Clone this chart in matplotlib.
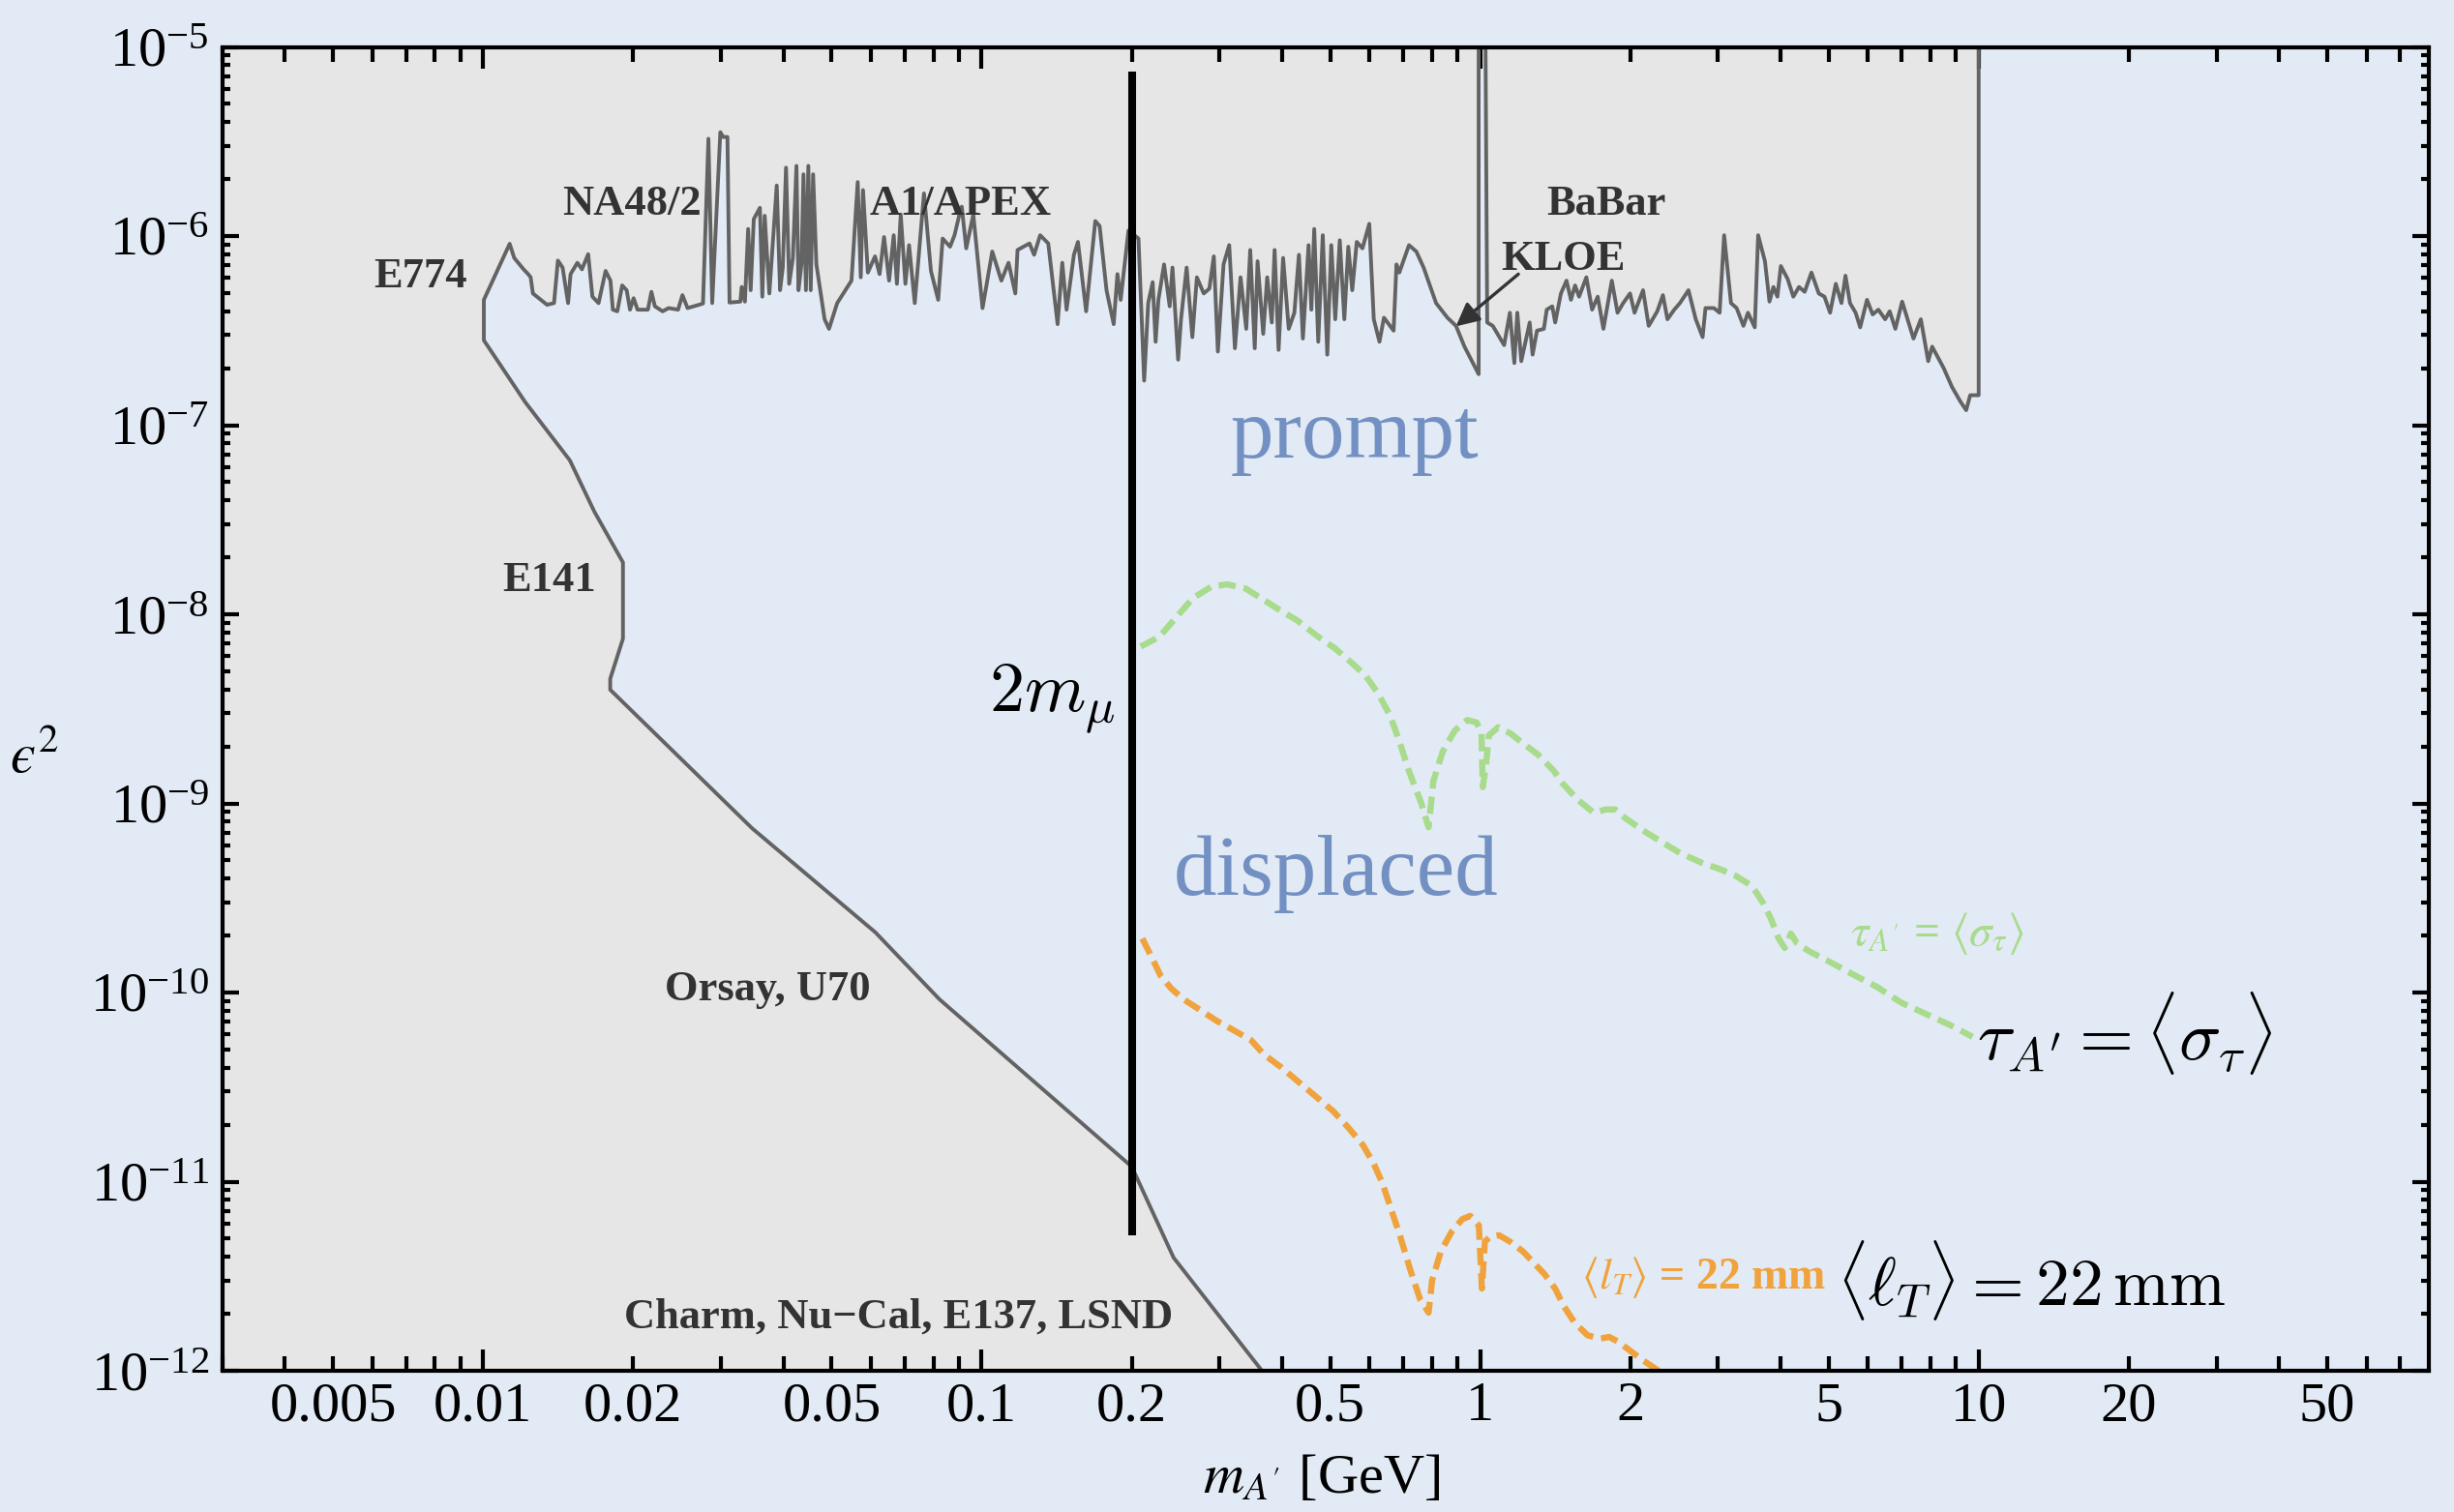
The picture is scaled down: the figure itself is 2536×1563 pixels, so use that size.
import matplotlib
matplotlib.use("Agg")
import matplotlib.pyplot as plt
from matplotlib.ticker import FixedLocator, NullFormatter, LogFormatterSciNotation

plt.rcParams['font.family'] = ['Liberation Serif', 'DejaVu Serif']
plt.rcParams['mathtext.fontset'] = 'stix'

# ---------------- data ----------------
# upper exclusion boundary (E774 / NA48/2 / A1-APEX / KLOE / BaBar), eps^2 vs mass [GeV]
upper_mass = [
    0.01003, 0.0113, 0.01154, 0.01205, 0.01231, 0.01245, 0.01258, 0.01343, 0.01387, 0.01412,
    0.01443, 0.0148, 0.01497, 0.01545, 0.01578, 0.01624, 0.01656, 0.01704, 0.0176, 0.0180,
    0.0182, 0.01858, 0.0190, 0.0194, 0.0197, 0.02003, 0.0204, 0.0214, 0.02175, 0.0221,
    0.0229, 0.02355, 0.0246, 0.0251, 0.0257, 0.0271, 0.0276, 0.0283, 0.0288, 0.0299,
    0.0303, 0.0309, 0.0312, 0.0328, 0.0330, 0.0335, 0.0340, 0.0344, 0.0349, 0.0359,
    0.0363, 0.0367, 0.0375, 0.0388, 0.0394, 0.0399, 0.0405, 0.0411, 0.0418, 0.0425,
    0.0429, 0.0435, 0.0439, 0.0444, 0.0449, 0.0454, 0.0459, 0.0466, 0.0484, 0.0494,
    0.0513, 0.0548, 0.0564, 0.0572, 0.0578, 0.0591, 0.0611, 0.0624, 0.0637, 0.0652,
    0.0666, 0.0676, 0.0688, 0.0703, 0.0715, 0.0734, 0.0766, 0.0791, 0.0818, 0.0835,
    0.0864, 0.0882, 0.0901, 0.0912, 0.0931, 0.0962, 0.1004, 0.105, 0.1095, 0.1132,
    0.1168, 0.118, 0.1247, 0.1274, 0.131, 0.136, 0.142, 0.1451, 0.148, 0.1531,
    0.156, 0.162, 0.169, 0.1724, 0.178, 0.184, 0.1872, 0.190, 0.197,
    0.2063, 0.2118, 0.2158, 0.2203, 0.2233, 0.2262, 0.2322, 0.2383, 0.2414, 0.2478,
    0.2511, 0.2577, 0.2646, 0.2702, 0.2789, 0.2862, 0.2922, 0.2977, 0.3056, 0.3137,
    0.3221, 0.3306, 0.3394, 0.3457, 0.3530, 0.3576, 0.3671, 0.3739, 0.3819, 0.3869,
    0.3941, 0.4024, 0.4130, 0.4239, 0.4329, 0.4409, 0.4526, 0.4585, 0.4646, 0.4733,
    0.4833, 0.4935, 0.5027, 0.5120, 0.5228, 0.5339, 0.5438, 0.5538, 0.5655, 0.5805,
    0.5991, 0.6117, 0.6280, 0.6412, 0.6704, 0.6793, 0.6883, 0.7011, 0.7198, 0.7446,
    0.7701, 0.7948, 0.8157, 0.8596, 0.8943, 0.9301, 0.993, 0.993, 1.025, 1.033,
    1.060, 1.117, 1.147, 1.171, 1.187, 1.209, 1.257, 1.274, 1.300, 1.342,
    1.360, 1.395, 1.414, 1.452, 1.490, 1.521, 1.550, 1.579, 1.633, 1.677,
    1.721, 1.767, 1.837, 1.886, 1.936, 1.998, 2.040, 2.122, 2.178, 2.266,
    2.326, 2.375, 2.451, 2.516, 2.617, 2.707, 2.794, 2.831, 2.944, 3.022,
    3.086, 3.185, 3.269, 3.374, 3.445, 3.555, 3.611, 3.726, 3.805, 3.875,
    3.947, 4.010, 4.138, 4.248, 4.361, 4.477, 4.619, 4.778, 4.905, 5.035,
    5.169, 5.306, 5.405, 5.519, 5.665, 5.785, 5.970, 6.129, 6.292, 6.493,
    6.630, 6.806, 7.023, 7.267, 7.400, 7.656, 7.921, 8.067, 8.502, 8.843,
    9.196, 9.44, 9.616, 10.0,
]
upper_eps2 = [
    4.6e-7, 9.1e-7, 7.66e-7, 6.67e-7, 6.29e-7, 6.05e-7, 4.97e-7, 4.33e-7, 4.42e-7, 7.42e-7,
    6.81e-7, 4.42e-7, 6.29e-7, 7.22e-7, 6.67e-7, 8.02e-7, 4.78e-7, 4.42e-7, 6.54e-7, 5.81e-7,
    4.08e-7, 4.0e-7, 5.48e-7, 5.17e-7, 4.08e-7, 4.69e-7, 4.08e-7, 4.08e-7, 5.07e-7, 4.25e-7,
    4.0e-7, 4.16e-7, 4.08e-7, 4.87e-7, 4.16e-7, 4.33e-7, 4.4e-7, 3.27e-6, 4.42e-7, 3.54e-6,
    3.34e-6, 3.34e-6, 4.45e-7, 4.5e-7, 5.38e-7, 4.5e-7, 1.09e-6, 5.17e-7, 1.23e-6, 1.41e-6,
    4.78e-7, 1.28e-6, 4.97e-7, 1.85e-6, 5.17e-7, 6.81e-7, 2.30e-6, 5.59e-7, 7.66e-7, 2.35e-6,
    5.17e-7, 7.08e-7, 2.12e-6, 5.17e-7, 2.35e-6, 5.17e-7, 2.12e-6, 7.08e-7, 3.63e-7, 3.23e-7,
    4.42e-7, 5.81e-7, 1.93e-6, 6.05e-7, 1.75e-6, 6.41e-7, 7.81e-7, 6.29e-7, 9.88e-7, 5.81e-7,
    1.01e-6, 5.59e-7, 1.30e-6, 5.59e-7, 8.95e-7, 4.42e-7, 1.68e-6, 6.54e-7, 4.6e-7, 9.7e-7,
    8.78e-7, 1.01e-6, 1.28e-6, 1.43e-6, 8.61e-7, 1.30e-6, 4.16e-7, 8.28e-7, 5.81e-7, 7.22e-7,
    4.97e-7, 8.44e-7, 9.14e-7, 7.96e-7, 1.01e-6, 9.14e-7, 3.42e-7, 7.22e-7, 4.08e-7, 7.96e-7,
    9.31e-7, 4.0e-7, 1.20e-6, 1.13e-6, 5.17e-7, 3.42e-7, 6.29e-7, 4.6e-7, 1.07e-6,
    9.7e-7, 1.72e-7, 4.42e-7, 5.70e-7, 2.76e-7, 4.6e-7, 7.08e-7, 4.25e-7, 6.81e-7, 2.22e-7,
    3.63e-7, 6.81e-7, 2.92e-7, 6.05e-7, 4.97e-7, 5.27e-7, 7.81e-7, 2.45e-7, 7.08e-7, 8.95e-7,
    2.55e-7, 6.05e-7, 3.23e-7, 8.44e-7, 2.55e-7, 7.36e-7, 3.04e-7, 6.05e-7, 3.49e-7, 8.44e-7,
    2.50e-7, 7.66e-7, 3.23e-7, 3.93e-7, 7.96e-7, 2.87e-7, 8.95e-7, 4.08e-7, 1.09e-6, 2.76e-7,
    1.01e-6, 2.36e-7, 8.95e-7, 3.63e-7, 9.5e-7, 3.63e-7, 8.78e-7, 5.17e-7, 9.31e-7, 8.61e-7,
    1.16e-6, 3.63e-7, 2.76e-7, 3.70e-7, 3.16e-7, 7.08e-7, 6.41e-7, 7.36e-7, 8.95e-7, 8.28e-7,
    6.81e-7, 5.38e-7, 4.42e-7, 3.70e-7, 3.35e-7, 2.60e-7, 1.86e-7, 1e-5, 1e-5, 3.49e-7,
    3.35e-7, 2.65e-7, 3.93e-7, 2.13e-7, 3.93e-7, 2.18e-7, 3.49e-7, 2.36e-7, 3.16e-7, 3.23e-7,
    4.08e-7, 4.25e-7, 3.49e-7, 4.97e-7, 5.81e-7, 4.6e-7, 5.48e-7, 4.78e-7, 6.05e-7, 4.08e-7,
    4.78e-7, 3.23e-7, 5.81e-7, 3.93e-7, 4.42e-7, 4.97e-7, 3.93e-7, 5.17e-7, 3.35e-7, 4.0e-7,
    4.87e-7, 3.63e-7, 4.08e-7, 4.42e-7, 5.17e-7, 3.63e-7, 2.92e-7, 4.16e-7, 4.16e-7, 3.93e-7,
    1.01e-6, 4.42e-7, 4.16e-7, 3.35e-7, 3.93e-7, 3.29e-7, 1.01e-6, 7.36e-7, 4.5e-7, 5.38e-7,
    4.78e-7, 6.94e-7, 5.93e-7, 4.78e-7, 5.38e-7, 5.07e-7, 6.41e-7, 4.97e-7, 4.78e-7, 3.93e-7,
    5.59e-7, 4.42e-7, 6.17e-7, 4.42e-7, 3.93e-7, 3.29e-7, 4.6e-7, 3.85e-7, 4.08e-7, 3.63e-7,
    4.0e-7, 3.23e-7, 4.5e-7, 3.35e-7, 2.87e-7, 3.63e-7, 2.18e-7, 2.60e-7, 2.01e-7, 1.59e-7,
    1.33e-7, 1.2e-7, 1.44e-7, 1.44e-7,
]

# lower exclusion boundary (E774 / E141 / Orsay, U70 / beam dumps)
lower_mass = [0.01003, 0.01003, 0.01215, 0.01492, 0.0167, 0.01907, 0.01907, 0.01798,
              0.01798, 0.0346, 0.0612, 0.0823, 0.2, 0.2427, 0.365]
lower_eps2 = [4.6e-7, 2.81e-7, 1.32e-7, 6.52e-8, 3.5e-8, 1.88e-8, 7.43e-9, 4.56e-9,
              3.99e-9, 7.4e-10, 2.08e-10, 9.2e-11, 1.2e-11, 3.96e-12, 1e-12]

# tau_A' = <sigma_tau> contour
tau_mass = [0.2084, 0.227, 0.2438, 0.2655, 0.289, 0.3105, 0.338, 0.363, 0.390, 0.4305,
            0.469, 0.511, 0.557, 0.589, 0.624, 0.660, 0.689, 0.719, 0.762, 0.788,
            0.806, 0.841, 0.890, 0.942, 0.983, 1.006, 1.012, 1.026, 1.041, 1.087,
            1.151, 1.218, 1.307, 1.404, 1.465, 1.573, 1.689, 1.788, 1.866, 1.948,
            2.121, 2.310, 2.516, 2.780, 3.028, 3.251, 3.491, 3.592, 3.695, 3.835,
            3.968, 4.083, 4.201, 4.322, 4.574, 4.983, 5.582, 6.256, 7.011, 7.857,
            8.805, 9.72]
tau_eps2 = [6.75e-9, 7.59e-9, 9.42e-9, 1.22e-8, 1.40e-8, 1.44e-8, 1.37e-8, 1.22e-8, 1.08e-8, 9.24e-9,
            7.74e-9, 6.61e-9, 5.43e-9, 4.73e-9, 3.82e-9, 2.90e-9, 2.12e-9, 1.49e-9, 1.00e-9, 7.48e-10,
            1.32e-9, 1.88e-9, 2.43e-9, 2.76e-9, 2.68e-9, 2.38e-9, 1.22e-9, 1.55e-9, 2.29e-9, 2.53e-9,
            2.34e-9, 2.08e-9, 1.81e-9, 1.49e-9, 1.27e-9, 1.04e-9, 8.93e-10, 9.29e-10, 9.29e-10, 8.42e-10,
            7.19e-10, 6.27e-10, 5.47e-10, 4.86e-10, 4.49e-10, 4.15e-10, 3.69e-10, 3.34e-10, 2.97e-10, 2.44e-10,
            1.93e-10, 1.72e-10, 2.05e-10, 1.82e-10, 1.65e-10, 1.47e-10, 1.25e-10, 1.07e-10, 8.81e-11, 7.68e-11,
            6.69e-11, 5.83e-11]

# <l_T> = 22 mm contour
lt_mass = [0.210, 0.2195, 0.2284, 0.240, 0.2548, 0.2732, 0.2959, 0.3204, 0.3470, 0.3684,
           0.399, 0.432, 0.468, 0.507, 0.543, 0.582, 0.612, 0.637, 0.663, 0.690,
           0.725, 0.758, 0.788, 0.801, 0.834, 0.876, 0.921, 0.955, 0.994, 1.008,
           1.022, 1.048, 1.091, 1.147, 1.218, 1.280, 1.345, 1.414, 1.471, 1.546,
           1.642, 1.743, 1.814, 1.887, 2.004, 2.127, 2.280]
lt_eps2 = [1.93e-10, 1.53e-10, 1.23e-10, 1.05e-10, 9.16e-11, 8.14e-11, 7.09e-11, 6.31e-11, 5.60e-11, 4.70e-11,
           4.02e-11, 3.37e-11, 2.82e-11, 2.36e-11, 1.94e-11, 1.56e-11, 1.24e-11, 9.77e-12, 7.13e-12, 5.21e-12,
           3.38e-12, 2.38e-12, 2.03e-12, 3.01e-12, 4.28e-12, 5.42e-12, 6.34e-12, 6.59e-12, 5.86e-12, 2.72e-12,
           4.82e-12, 5.11e-12, 5.21e-12, 4.82e-12, 4.28e-12, 3.73e-12, 3.25e-12, 2.72e-12, 2.20e-12, 1.80e-12,
           1.54e-12, 1.48e-12, 1.51e-12, 1.43e-12, 1.27e-12, 1.13e-12, 1.00e-12]

# dimuon threshold marker
two_mmu = 0.2
two_mmu_span = [5.2e-12, 7.4e-6]

# axis ranges and ticks
x_range = [0.003, 80]
y_range = [1e-12, 1e-5]
x_major = [0.01, 0.1, 1, 10]
x_major_labels = ['0.01', '0.1', '1', '10']
x_minor_labels = {0.005: '0.005', 0.02: '0.02', 0.05: '0.05', 0.2: '0.2', 0.5: '0.5',
                  2: '2', 5: '5', 20: '20', 50: '50'}
y_decades = list(range(-12, -4))

# ---------------- styling ----------------
BG = '#e2eaf5'
EXCL = '#e6e6e6'
EDGE = '#636363'
LABEL = '#333333'
BLUE = '#7390c3'
GREEN = '#a8db8c'
ORANGE = '#f0a23c'

W, H = 2536, 1563
fig = plt.figure(figsize=(W / 200, H / 200), dpi=200)
fig.patch.set_facecolor(BG)
ax = fig.add_axes([230 / W, 1 - 1417 / H, (2510 - 230) / W, (1417 - 48.5) / H])
ax.set_facecolor('none')
ax.set_xscale('log')
ax.set_yscale('log')
ax.set_xlim(*x_range)
ax.set_ylim(*y_range)

# excluded region: everything left of / above the upper curve and below the lower curve
poly_x = [x_range[0], x_range[0], upper_mass[-1]] + upper_mass[::-1] + lower_mass
poly_y = [y_range[0], y_range[1], y_range[1]] + upper_eps2[::-1] + lower_eps2
ax.fill(poly_x, poly_y, color=EXCL, lw=0, zorder=1)

outline_x = lower_mass[::-1] + upper_mass + [upper_mass[-1]]
outline_y = lower_eps2[::-1] + upper_eps2 + [y_range[1]]
ax.plot(outline_x, outline_y, color=EDGE, lw=1.4, zorder=3)

# contours
ax.plot(tau_mass, tau_eps2, color=GREEN, lw=2.3, dashes=(2.8, 1.3), zorder=4)
ax.plot(lt_mass, lt_eps2, color=ORANGE, lw=2.3, dashes=(2.8, 1.3), zorder=4)

# 2 m_mu line
ax.plot([two_mmu, two_mmu], two_mmu_span, color='black', lw=2.9,
        solid_capstyle='butt', zorder=5)

# ticks
ax.set_xticks(x_major)
ax.set_xticklabels(x_major_labels)
minor_pos = [k * 10.0 ** d for d in range(-3, 2) for k in range(2, 10)]
minor_pos = [v for v in minor_pos if x_range[0] <= v < x_range[1]]
ax.set_xticks(minor_pos, minor=True)
ax.set_xticklabels([x_minor_labels.get(round(v, 6), '') for v in minor_pos], minor=True)

ax.yaxis.set_major_locator(FixedLocator([10.0 ** d for d in y_decades]))
ax.yaxis.set_major_formatter(LogFormatterSciNotation())
ax.yaxis.set_minor_locator(FixedLocator([k * 10.0 ** d for d in y_decades[:-1]
                                         for k in range(2, 10)]))
ax.yaxis.set_minor_formatter(NullFormatter())

ax.tick_params(which='both', direction='in', top=True, right=True, width=1.5,
               labelsize=21, color='black')
ax.tick_params(axis='x', which='major', length=8, pad=4)
ax.tick_params(axis='x', which='minor', length=5.4, pad=4)
ax.tick_params(axis='y', which='major', length=6, pad=5)
ax.tick_params(axis='y', which='minor', length=3)
for s in ax.spines.values():
    s.set_linewidth(1.5)
    s.set_zorder(6)

# experiment labels
bold = dict(fontsize=16, fontweight='bold', color=LABEL, ha='center', va='baseline', zorder=7)
ax.text(0.00747, 5.36e-7, 'E774', **bold)
ax.text(0.0199, 1.30e-6, 'NA48/2', **bold)
ax.text(0.0906, 1.30e-6, 'A1/APEX', **bold)
ax.text(1.79, 1.30e-6, 'BaBar', **bold)
ax.text(1.47, 6.59e-7, 'KLOE', **bold)
ax.text(0.01358, 1.32e-8, 'E141', **bold)
ax.text(0.0372, 9.06e-11, 'Orsay, U70', **bold)
ax.text(0.068, 1.68e-12, 'Charm, Nu\u2212Cal, E137, LSND', **bold)
ax.annotate('', xy=(0.894, 3.33e-7), xytext=(1.193, 6.29e-7),
            arrowprops=dict(arrowstyle='-|>', color=LABEL, lw=1.2, mutation_scale=18,
                            shrinkA=0, shrinkB=0), zorder=7)

# region labels
ax.text(0.561, 6.71e-8, 'prompt', fontsize=32, color=BLUE, ha='center', va='baseline')
ax.text(0.5147, 3.28e-10, 'displaced', fontsize=32, color=BLUE, ha='center', va='baseline')

ax.text(0.1033, 3.07e-9, r'$2m_\mu$', fontsize=26, math_fontfamily='cm',
        ha='left', va='baseline')
ax.text(9.91, 4.43e-11, r"$\tau_{A'} = \langle\sigma_\tau\rangle$", fontsize=26,
        math_fontfamily='cm', ha='left', va='baseline')
ax.text(5.18, 2.2e-12, r'$\langle\ell_T\rangle = 22\,\mathrm{mm}$', fontsize=25,
        math_fontfamily='cm', ha='left', va='baseline')

ax.text(5.53, 1.78e-10, r"$\tau_{A'}$ = $\langle\sigma_\tau\rangle$", fontsize=17,
        fontweight='bold', color=GREEN, ha='left', va='baseline')
ax.text(1.594, 2.72e-12, r"$\langle l_T\rangle$ = 22 mm", fontsize=16.5,
        fontweight='bold', color=ORANGE, ha='left', va='baseline')

# axis labels
fig.text(1366 / W, 1 - 1543 / H, r"$m_{A'}$ [GeV]", fontsize=21, ha='center', va='baseline')
fig.text(36 / W, 1 - 784 / H, '$\u03f5^2$', fontsize=21, ha='center', va='center')

fig.savefig('out.png', dpi=200, facecolor=BG)
